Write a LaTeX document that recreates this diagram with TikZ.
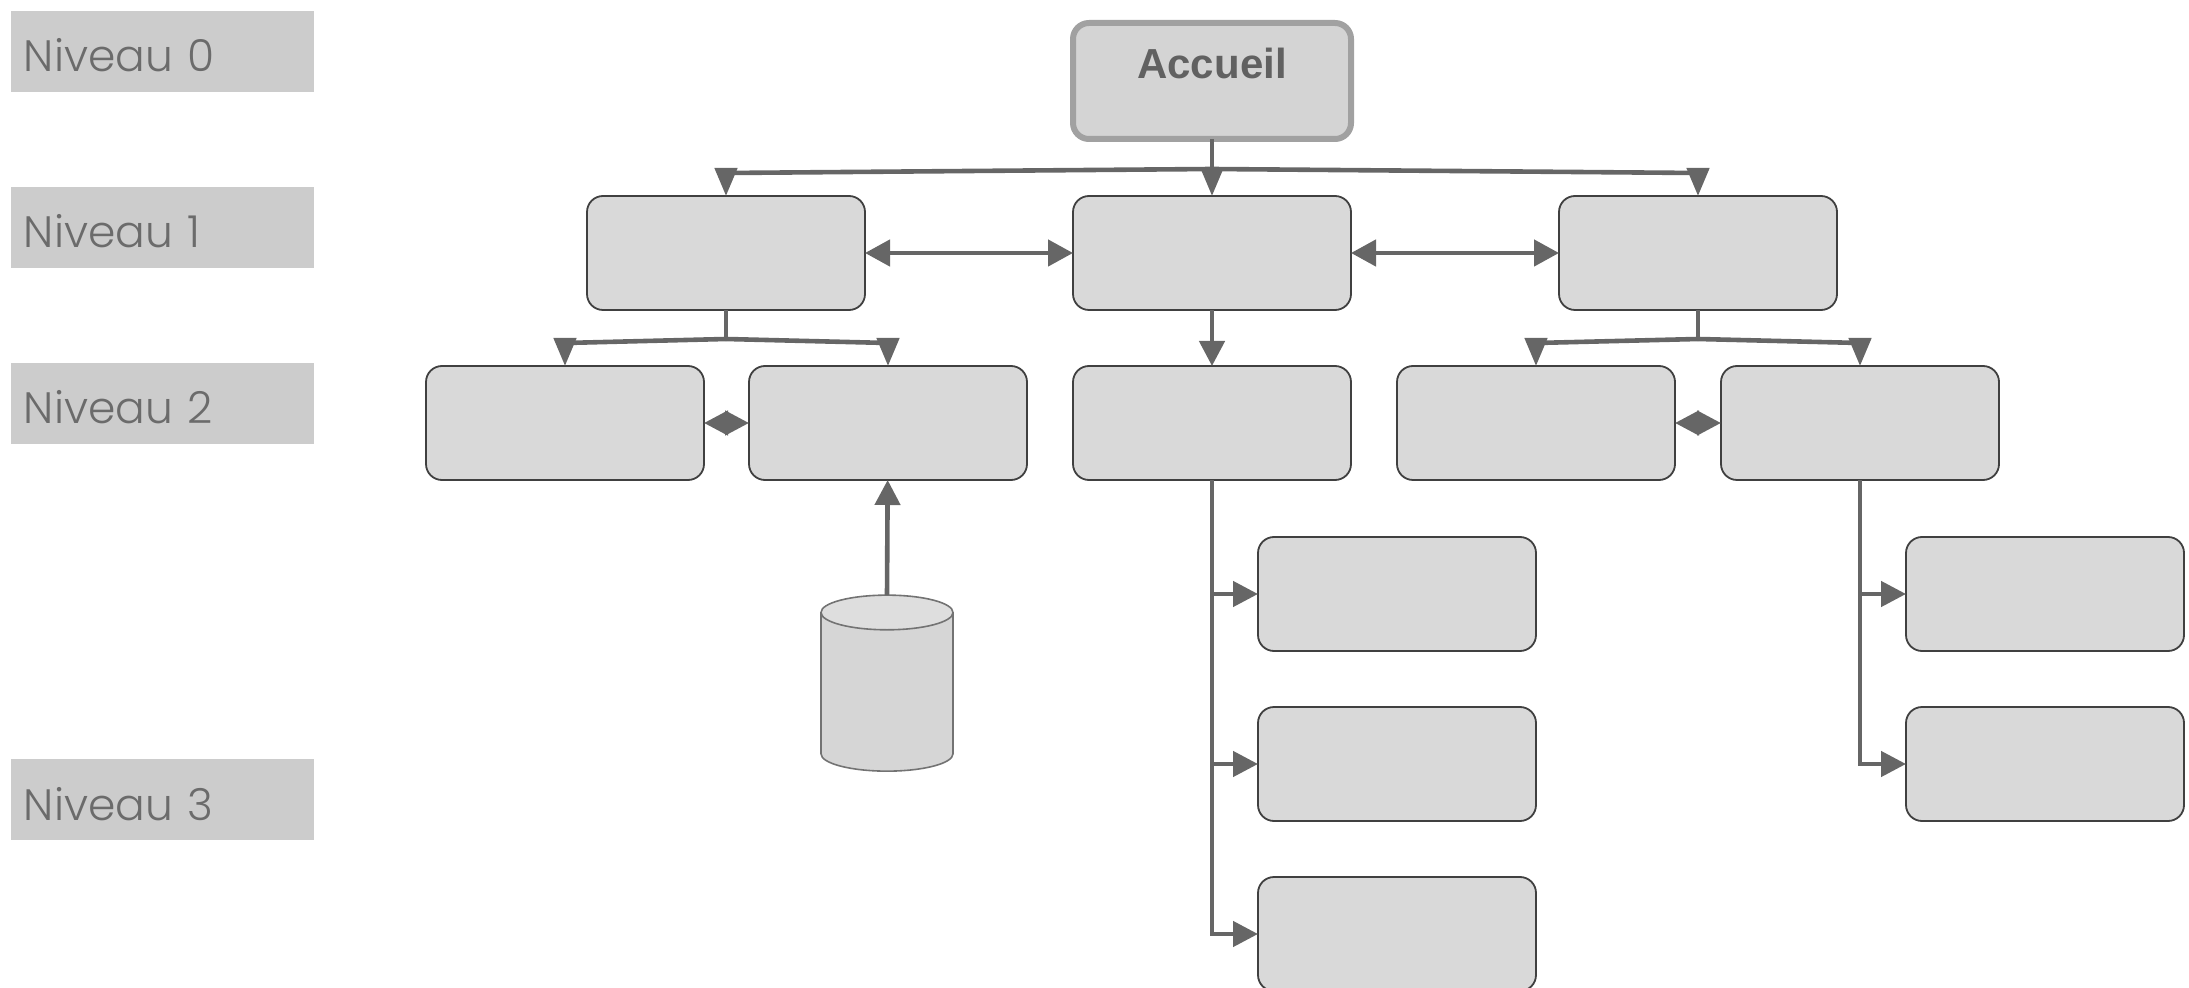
\documentclass[tikz,border=0pt]{standalone}
\usepackage{fontspec}
\setmainfont{Poppins Light}
\newfontfamily\titlefont{Liberation Sans}
\usepackage{xcolor}
\usepackage{tikz}
\usetikzlibrary{arrows.meta,shapes.geometric}

\definecolor{linegray}{HTML}{666666}
\definecolor{boxgray}{HTML}{D9D9D9}
\tikzset{
	levelbox/.style={rectangle, minimum height=40.5pt, minimum width=151.5pt, fill=black!20, text=black!58, inner xsep=6.5pt, outer sep=0pt, text width=138.5pt, text height=20.5pt, text depth=0pt, font=\fontsize{22}{24}\selectfont},
	pagebox/.style={rectangle, minimum height=57pt, minimum width=139pt, fill=boxgray, draw=black!75, line width=0.9pt, rounded corners=8pt, outer sep=0pt},
	link/.style={draw=linegray, line width=2.3pt, -{Triangle[length=12.5pt,width=12.5pt]}},
	forklink/.style={link, -{Triangle[length=14pt,width=11pt]}},
	biglink/.style={link, {Triangle[length=12.5pt,width=13pt]}-{Triangle[length=12.5pt,width=13pt]}},
	smalllink/.style={link, {Triangle[length=12pt,width=12pt]}-{Triangle[length=12pt,width=12pt]}},
}

\begin{document}
\begin{tikzpicture}[x=0.5pt,y=-0.5pt]
	\useasboundingbox (0,0) rectangle (2189,988);
	\node[levelbox] at (162.5,51.5 )(level0){Niveau 0};
	\node[levelbox] at (162.5,227.5)(level1){Niveau 1};
	\node[levelbox] at (162.5,403.5)(level2){Niveau 2};
	\node[levelbox] at (162.5,799.5)(level3){Niveau 3};

	\node[pagebox, minimum height=58pt, minimum width=139pt, draw=black!37, line width=3pt, fill=black!17, text=black!62, text depth=18pt, font=\titlefont\bfseries\fontsize{21}{24}\selectfont] at (1212,81)(home){Accueil};

	\node[pagebox] at (726 ,253)(page1){};
	\node[pagebox] at (1212,253)(page2){};
	\node[pagebox] at (1698,253)(page3){};

	\node[pagebox] at (565 ,423)(page11){};
	\node[pagebox] at (888 ,423)(page12){};
	\node[pagebox] at (1212,423)(page21){};
	\node[pagebox] at (1536,423)(page31){};
	\node[pagebox] at (1860,423)(page32){};

	\node[pagebox] at (1397,594)(page211){};
	\node[pagebox] at (1397,764)(page212){};
	\node[pagebox] at (1397,934)(page213){};
	\node[pagebox] at (2045,594)(page321){};
	\node[pagebox] at (2045,764)(page322){};

	\node[cylinder, shape border rotate=90, aspect=2.6, minimum height=88pt, minimum width=66pt, draw=black!55, line width=0.8pt, cylinder uses custom fill, cylinder body fill=black!16, cylinder end fill=black!13, outer sep=0pt] at (887,696)(base){};

	\coordinate (fork0) at (1212,169);
	\coordinate (fork1) at (726,339);
	\coordinate (fork3) at (1698,339);

	\draw[line width=2.3pt, draw=linegray](home) -- (fork0);
	\draw[forklink](fork0) -- (page2);
	\draw[forklink](fork0) -- (726,173) -- (page1);
	\draw[forklink](fork0) -- (1698,173) -- (page3);

	\draw[line width=2.3pt, draw=linegray](page1) -- (fork1);
	\draw[forklink](fork1) -- (565,343) -- (page11);
	\draw[forklink](fork1) -- (888,343) -- (page12);

	\draw[line width=2.3pt, draw=linegray](page3) -- (fork3);
	\draw[forklink](fork3) -- (1536,343) -- (page31);
	\draw[forklink](fork3) -- (1860,343) -- (page32);

	\draw[link](page2) -- (page21);
	\draw[biglink](page1) -- (page2);
	\draw[biglink](page2) -- (page3);
	\draw[smalllink](page11) -- (page12);
	\draw[smalllink](page31) -- (page32);
	\draw[link](base.north) -- (page12);

	\draw[link](page21.south) |- (page211);
	\draw[link](page21.south) |- (page212);
	\draw[link](page21.south) |- (page213);
	\draw[link](page32.south) |- (page321);
	\draw[link](page32.south) |- (page322);
\end{tikzpicture}
\end{document}
